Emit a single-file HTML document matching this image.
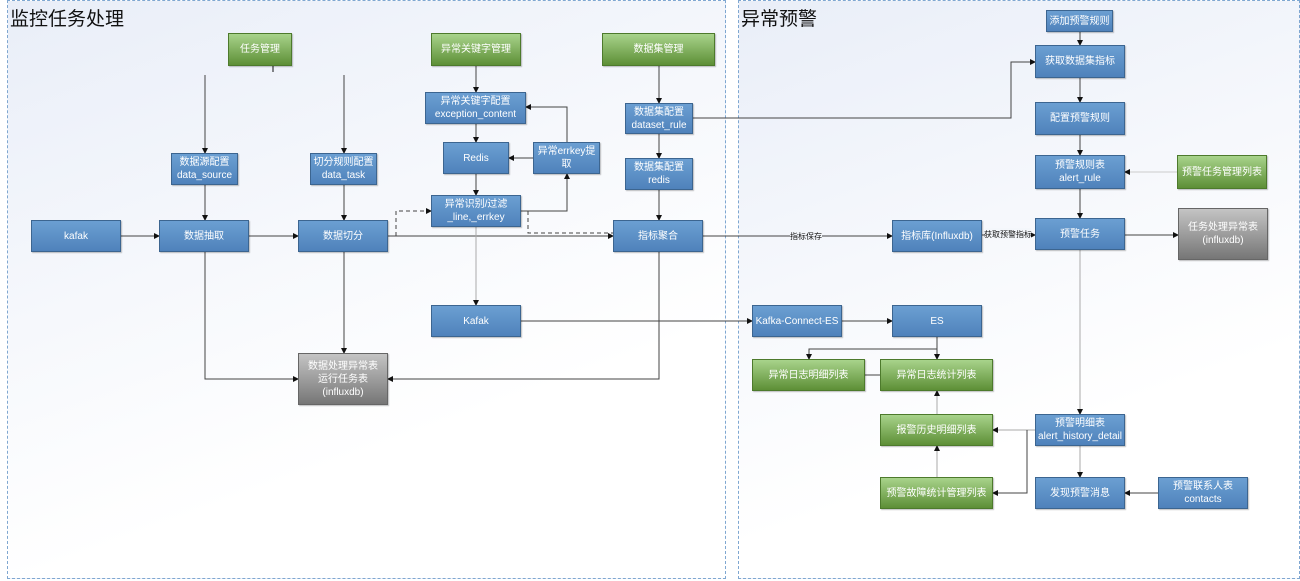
<!DOCTYPE html>
<html><head><meta charset="utf-8"><style>
*{margin:0;padding:0;box-sizing:border-box}
body{width:1300px;height:581px;position:relative;overflow:hidden;background:#fff;font-family:"Liberation Sans","Noto Sans CJK SC",sans-serif}
.panel{position:absolute;border:1px dashed #7fa7d1;background:linear-gradient(160deg,#e9eef8 0%,#f6f8fc 40%,#ffffff 70%)}
.t{position:absolute;font-size:19px;color:#111;font-family:"Liberation Sans","Noto Sans CJK SC",sans-serif}
.b{position:absolute;display:flex;align-items:center;justify-content:center;text-align:center;color:#fff;font-size:10px;line-height:13px;box-shadow:1px 1px 1px rgba(0,0,0,.25)}
.bl{background:linear-gradient(#6b9fd2,#4f82bb);border:1px solid #3c6590}
.gr{background:linear-gradient(#a8d38b,#5d8f36);border:1px solid #4d7a2c}
.gy{background:linear-gradient(#c4c4c4,#767676);border:1px solid #666}
svg{position:absolute;left:0;top:0}
</style></head><body>
<div class="panel" style="left:7px;top:0;width:719px;height:579px"></div>
<div class="panel" style="left:738px;top:0;width:562px;height:579px"></div>
<div class="t" style="left:10px;top:4px">监控任务处理</div>
<div class="t" style="left:741px;top:4px">异常预警</div>

<svg width="1300" height="581">
<defs><marker id="a" markerWidth="6" markerHeight="6" refX="5" refY="3" orient="auto"><path d="M0,0 L6,3 L0,6z" fill="#111"/></marker></defs>
<g stroke="#444" stroke-width="1" fill="none" marker-end="url(#a)">
<path d="M205 75V153"/><path d="M344 75V153"/>
<path d="M205 185V220"/><path d="M344 185V220"/>
<path d="M121 236H159"/><path d="M249 236H298"/>
<path d="M388 236H613"/>
<path d="M476 66V92"/><path d="M476 124V142"/><path d="M476 174V195"/>
<path d="M476 227V305" stroke="#aaa"/>
<path d="M521 211H567V174"/>
<path d="M567 142V107H526"/>
<path d="M533 158H509"/>
<path d="M659 66V103"/><path d="M659 134V158"/><path d="M659 190V220"/>
<path d="M693 118H1011V62H1035"/>
<path d="M703 236H892"/>
<path d="M982 235H1035"/>
<path d="M1125 235H1178"/>
<path d="M1080 32V45"/><path d="M1080 78V102"/><path d="M1080 135V155"/><path d="M1080 189V218"/>
<path d="M1177 172H1125" stroke="#ccc"/>
<path d="M1080 250V414" stroke="#aaa"/>
<path d="M1080 446V477" stroke="#aaa"/>
<path d="M1158 493H1125"/>
<path d="M1035 430H993" stroke="#aaa"/>
<path d="M1027 430V493H993"/>
<path d="M937 477V446" stroke="#aaa"/>
<path d="M937 414V391" stroke="#aaa"/>
<path d="M880 375H842"/>
<path d="M937 337V359"/>
<path d="M937 349H809V359"/>
<path d="M842 321H892"/>
<path d="M521 321H752"/>
<path d="M205 252V379H298"/>
<path d="M344 252V353"/>
<path d="M659 252V379H388"/>
<path d="M396 236V211H431" stroke-dasharray="4,3"/>
<path d="M528 211V233H613" stroke-dasharray="4,3" marker-end="none"/>
</g>
<path d="M273 66V72" stroke="#111"/>
<rect x="790" y="230" width="32" height="11" fill="#f4f7fb"/>
<text x="806" y="239" font-size="8" text-anchor="middle" fill="#111" font-family="Liberation Sans,Noto Sans CJK SC,sans-serif">指标保存</text>
<rect x="985" y="228" width="46" height="11" fill="#f4f7fb"/>
<text x="1008" y="237" font-size="8" text-anchor="middle" fill="#111" font-family="Liberation Sans,Noto Sans CJK SC,sans-serif">获取预警指标</text>
</svg>

<div class="b gr" style="left:228px;top:33px;width:64px;height:33px">任务管理</div>
<div class="b gr" style="left:431px;top:33px;width:90px;height:33px">异常关键字管理</div>
<div class="b gr" style="left:602px;top:33px;width:113px;height:33px">数据集管理</div>
<div class="b bl" style="left:425px;top:92px;width:101px;height:32px">异常关键字配置<br>exception_content</div>
<div class="b bl" style="left:625px;top:103px;width:68px;height:31px">数据集配置<br>dataset_rule</div>
<div class="b bl" style="left:443px;top:142px;width:66px;height:32px">Redis</div>
<div class="b bl" style="left:533px;top:142px;width:67px;height:32px">异常errkey提<br>取</div>
<div class="b bl" style="left:171px;top:153px;width:67px;height:32px">数据源配置<br>data_source</div>
<div class="b bl" style="left:310px;top:153px;width:67px;height:32px">切分规则配置<br>data_task</div>
<div class="b bl" style="left:625px;top:158px;width:68px;height:32px">数据集配置<br>redis</div>
<div class="b bl" style="left:431px;top:195px;width:90px;height:32px">异常识别/过滤<br>_line,_errkey</div>
<div class="b bl" style="left:31px;top:220px;width:90px;height:32px">kafak</div>
<div class="b bl" style="left:159px;top:220px;width:90px;height:32px">数据抽取</div>
<div class="b bl" style="left:298px;top:220px;width:90px;height:32px">数据切分</div>
<div class="b bl" style="left:613px;top:220px;width:90px;height:32px">指标聚合</div>
<div class="b bl" style="left:431px;top:305px;width:90px;height:32px">Kafak</div>
<div class="b gy" style="left:298px;top:353px;width:90px;height:52px">数据处理异常表<br>运行任务表<br>(influxdb)</div>

<div class="b bl" style="left:1046px;top:10px;width:67px;height:22px">添加预警规则</div>
<div class="b bl" style="left:1035px;top:45px;width:90px;height:33px">获取数据集指标</div>
<div class="b bl" style="left:1035px;top:102px;width:90px;height:33px">配置预警规则</div>
<div class="b bl" style="left:1035px;top:155px;width:90px;height:34px">预警规则表<br>alert_rule</div>
<div class="b gr" style="left:1177px;top:155px;width:90px;height:34px">预警任务管理列表</div>
<div class="b bl" style="left:892px;top:220px;width:90px;height:32px">指标库(Influxdb)</div>
<div class="b bl" style="left:1035px;top:218px;width:90px;height:32px">预警任务</div>
<div class="b gy" style="left:1178px;top:208px;width:90px;height:52px">任务处理异常表<br>(influxdb)</div>
<div class="b bl" style="left:752px;top:305px;width:90px;height:32px">Kafka-Connect-ES</div>
<div class="b bl" style="left:892px;top:305px;width:90px;height:32px">ES</div>
<div class="b gr" style="left:752px;top:359px;width:113px;height:32px">异常日志明细列表</div>
<div class="b gr" style="left:880px;top:359px;width:113px;height:32px">异常日志统计列表</div>
<div class="b gr" style="left:880px;top:414px;width:113px;height:32px">报警历史明细列表</div>
<div class="b bl" style="left:1035px;top:414px;width:90px;height:32px">预警明细表<br>alert_history_detail</div>
<div class="b gr" style="left:880px;top:477px;width:113px;height:32px">预警故障统计管理列表</div>
<div class="b bl" style="left:1035px;top:477px;width:90px;height:32px">发现预警消息</div>
<div class="b bl" style="left:1158px;top:477px;width:90px;height:32px">预警联系人表<br>contacts</div>
</body></html>
